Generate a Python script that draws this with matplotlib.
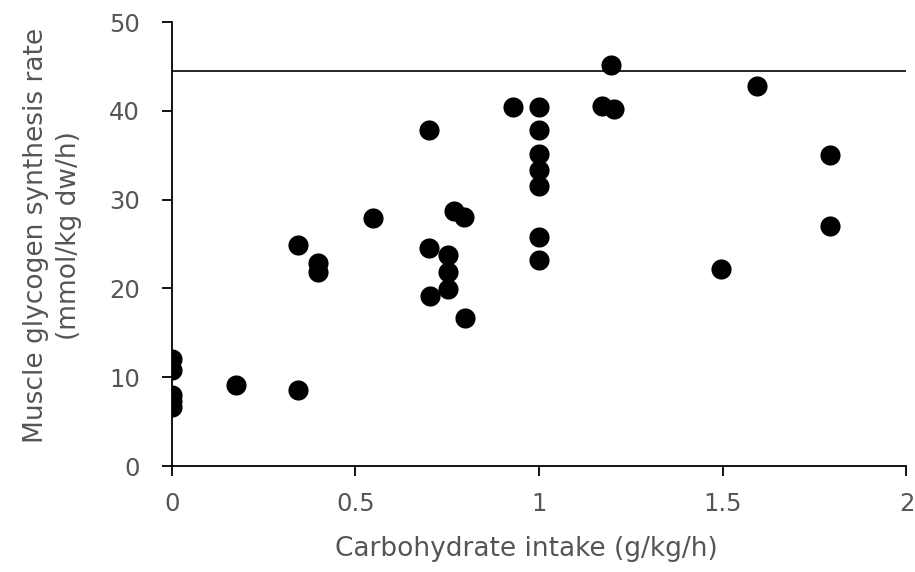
import matplotlib
matplotlib.use("Agg")
import matplotlib.pyplot as plt

# Data
carb_intake = [0, 0, 0, 0, 0, 0.176, 0.345, 0.345, 0.398, 0.398, 0.549,
               0.70, 0.70, 0.704, 0.753, 0.753, 0.753, 0.798, 0.769, 0.796,
               0.928, 1.0, 1.0, 1.0, 1.0, 1.0, 1.0, 1.0, 1.171, 1.204, 1.195,
               1.495, 1.593, 1.793, 1.793]
glycogen_rate = [12.0, 10.8, 8.0, 7.3, 6.7, 9.1, 8.6, 24.9, 22.9, 21.8, 27.9,
                 37.9, 24.6, 19.1, 23.8, 21.9, 19.9, 16.7, 28.7, 28.1,
                 40.4, 40.4, 37.8, 35.1, 33.4, 31.5, 25.8, 23.2, 40.6, 40.2, 45.2,
                 22.2, 42.8, 35.0, 27.0]
plateau_level = 44.5

x_ticks = [0, 0.5, 1, 1.5, 2]
x_tick_labels = ["0", "0.5", "1", "1.5", "2"]
y_ticks = [0, 10, 20, 30, 40, 50]

plt.rcParams['font.family'] = ['DejaVu Sans']
text_color = '#555555'

fig = plt.figure(figsize=(9.15, 5.72), dpi=100)
ax = fig.add_axes([0.1877, 0.1853, 0.803, 0.776])

ax.scatter(carb_intake, glycogen_rate, s=210, color='black', zorder=3, linewidths=0)
ax.axhline(plateau_level, color='black', linewidth=1.2, xmin=0, xmax=1)

ax.set_xlim(0, 2)
ax.set_ylim(0, 50)
ax.set_xticks(x_ticks)
ax.set_xticklabels(x_tick_labels)
ax.set_yticks(y_ticks)

for s in ['top', 'right']:
    ax.spines[s].set_visible(False)
for s in ['left', 'bottom']:
    ax.spines[s].set_linewidth(1.3)
    ax.spines[s].set_color('black')

ax.tick_params(axis='both', direction='out', length=7, width=1.3, colors='black',
               labelcolor=text_color, labelsize=17.5)
ax.tick_params(axis='x', pad=12)
ax.tick_params(axis='y', pad=16)

ax.set_xlabel("Carbohydrate intake (g/kg/h)", fontsize=19, color=text_color)
ax.xaxis.set_label_coords(0.483, -0.158)
ax.set_ylabel("Muscle glycogen synthesis rate\n(mmol/kg dw/h)", fontsize=19,
              color=text_color, linespacing=1.35)
ax.yaxis.set_label_coords(-0.122, 0.52)

fig.savefig("out.png", dpi=100)
